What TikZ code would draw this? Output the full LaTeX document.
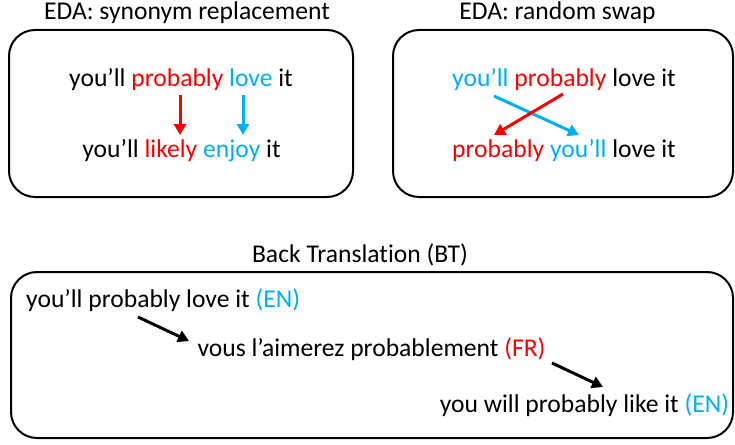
\documentclass[tikz,border=0pt]{standalone}
\usepackage{fontspec}
\setmainfont{Carlito}[Ligatures={NoCommon}]
\usetikzlibrary{arrows.meta}
\definecolor{myred}{HTML}{FF0000}
\definecolor{myblue}{HTML}{00B0F0}
\begin{document}
\begin{tikzpicture}[x=1pt,y=-1pt,
  font=\fontsize{25.6}{30}\selectfont,
  txt/.style={inner sep=0pt, anchor=base},
  panel/.style={draw=black, line width=2pt, rounded corners=26pt},
  arr/.style={line width=3pt, -{Triangle[length=11pt,width=12pt]}},
]
\useasboundingbox (0,0) rectangle (735,444);
% panels
\draw[panel] (9,30) rectangle (353,197);
\draw[panel] (393,30) rectangle (733,197);
\draw[panel] (11,272) rectangle (733,438);
% titles
\node[txt] (t1) at (187,20) {EDA: synonym replacement};
\node[txt] (t2) at (557.5,20) {EDA: random swap};
\node[txt] (t3) at (360,262) {Back Translation (BT)};
% synonym replacement
\node[txt] (s1) at (181,86) {you’ll \textcolor{myred}{probably} \textcolor{myblue}{love} it};
\node[txt] (s2) at (181.5,157) {you’ll \textcolor{myred}{likely} \textcolor{myblue}{enjoy} it};
\coordinate (sr1) at (180,95);  \coordinate (sr2) at (180,135);
\coordinate (sb1) at (243,95);  \coordinate (sb2) at (243,135);
\draw[arr, myred] (sr1) -- (sr2);
\draw[arr, myblue] (sb1) -- (sb2);
% random swap
\node[txt] (w1) at (564,86) {\textcolor{myblue}{you’ll} \textcolor{myred}{probably} love it};
\node[txt] (w2) at (564,157) {\textcolor{myred}{probably} \textcolor{myblue}{you’ll} love it};
\coordinate (wb1) at (494,96);  \coordinate (wb2) at (579,135);
\coordinate (wr1) at (563,94);  \coordinate (wr2) at (494,135);
\draw[arr, myblue] (wb1) -- (wb2);
\draw[arr, myred] (wr1) -- (wr2);
% back translation
\node[txt, anchor=base west] (b1) at (26,307) {you’ll probably love it \textcolor{myblue}{(EN)}};
\node[txt] (b2) at (371.5,356) {vous l’aimerez probablement \textcolor{myred}{(FR)}};
\node[txt] (b3) at (584.5,412) {you will probably like it \textcolor{myblue}{(EN)}};
\coordinate (ba1) at (138,317); \coordinate (ba2) at (189,341);
\coordinate (bb1) at (552,363); \coordinate (bb2) at (603,387);
\draw[arr, black] (ba1) -- (ba2);
\draw[arr, black] (bb1) -- (bb2);
\end{tikzpicture}
\end{document}
